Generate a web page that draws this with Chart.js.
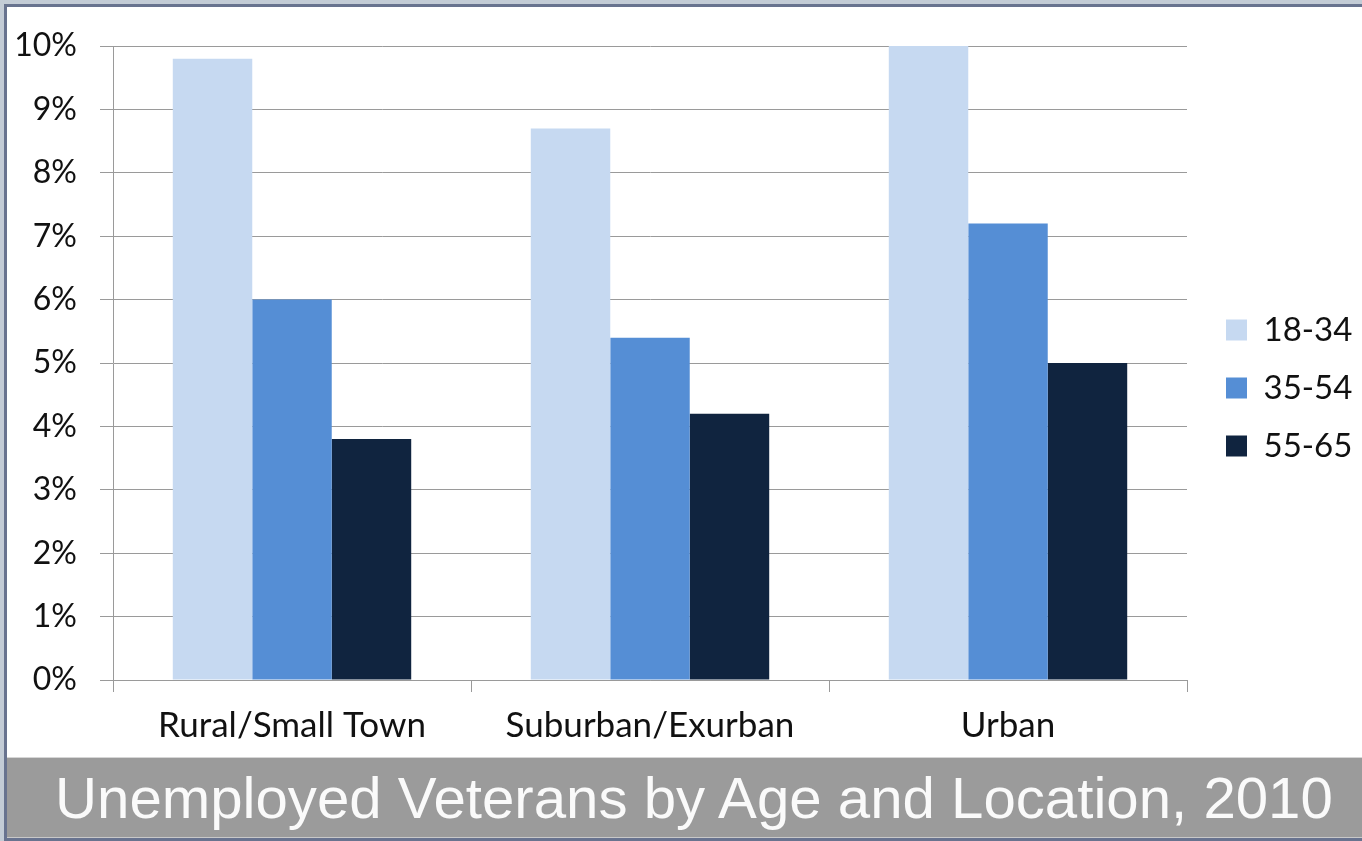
<!DOCTYPE html>
<html>
<head>
<meta charset="utf-8">
<title>Unemployed Veterans by Age and Location, 2010</title>
<script src="https://cdn.jsdelivr.net/npm/chart.js@4.4.1/dist/chart.umd.min.js"></script>
<style>
    html, body { margin: 0; padding: 0; overflow: hidden; }
    body { width: 1362px; height: 841px; background: #c3ccd6; position: relative; }
    .frame {
        position: absolute; left: 4px; top: 4px; width: 1400px; height: 831px;
        border: 3px solid #68738f; border-right: none; background: #fff;
    }
    .plot { position: relative; width: 1355px; height: 750px; }
    .caption {
        height: 79px; line-height: 79px; background: #9b9b9b;
        border-top: 1px solid #d6d6d6; border-bottom: 1px solid #c8c8c8;
        color: #fafafa; font-family: 'Liberation Sans', Arial, sans-serif; font-size: 58.2px;
        padding-left: 48px; white-space: nowrap;
    }
</style>
</head>
<body>
<div class="frame">
    <div class="plot"><canvas id="vetChart"></canvas></div>
    <div class="caption">Unemployed Veterans by Age and Location, 2010</div>
</div>
<script>
// data (percent unemployed)
const LOCATIONS = ['Rural/Small Town', 'Suburban/Exurban', 'Urban'];
const AGE_GROUPS = ['18-34', '35-54', '55-65'];
const AGE_18_34 = [9.8, 8.7, 10.0];
const AGE_35_54 = [6.0, 5.4, 7.2];
const AGE_55_65 = [3.8, 4.2, 5.0];
const Y_TICKS = [0, 1, 2, 3, 4, 5, 6, 7, 8, 9, 10];

const COLORS = ['#c6d9f1', '#558ed5', '#10243f'];
const GRID = '#9a9a9a';
const FONT = 'Lato, "Open Sans", sans-serif';

// legend sits a bit further right and higher than Chart.js puts it
const legendNudge = {
    id: 'legendNudge',
    afterLayout(chart) {
        const lg = chart.legend;
        lg.left = chart.chartArea.right + 14;
        lg.right = chart.width;
        lg.width = lg.right - lg.left;
        lg.top -= 12;
        lg.bottom -= 12;
    }
};

const ctx = document.getElementById('vetChart').getContext('2d');
new Chart(ctx, {
    type: 'bar',
    data: {
        labels: LOCATIONS,
        datasets: [AGE_18_34, AGE_35_54, AGE_55_65].map((vals, i) => ({
            label: AGE_GROUPS[i],
            data: vals,
            backgroundColor: COLORS[i],
            borderWidth: 0,
            categoryPercentage: 0.666,
            barPercentage: 1
        }))
    },
    options: {
        responsive: true,
        maintainAspectRatio: false,
        animation: false,
        layout: { padding: { top: 36, bottom: 0, left: 0, right: 35 } },
        scales: {
            x: {
                grid: { offset: true, drawOnChartArea: false, drawTicks: true, tickLength: 12, color: GRID },
                border: { display: true, color: GRID },
                ticks: { color: '#111', padding: 13, font: { family: FONT, size: 35 } },
                afterFit: (scale) => { scale.height = 77; }
            },
            y: {
                min: 0,
                max: 10,
                afterBuildTicks: (scale) => { scale.ticks = Y_TICKS.map(v => ({ value: v })); },
                grid: { color: GRID, tickLength: 13 },
                border: { display: true, color: GRID },
                ticks: {
                    color: '#111',
                    padding: 23,
                    font: { family: FONT, size: 32, lineHeight: 1.0 },
                    callback: (v) => v + '%'
                },
                afterFit: (scale) => { scale.width = 106; }
            }
        },
        plugins: {
            legend: {
                position: 'right',
                maxWidth: 140,
                labels: {
                    boxWidth: 21,
                    boxHeight: 21,
                    padding: 25,
                    color: '#111',
                    font: { family: FONT, size: 33 }
                }
            },
            tooltip: { enabled: false }
        }
    },
    plugins: [legendNudge]
});
</script>
</body>
</html>
